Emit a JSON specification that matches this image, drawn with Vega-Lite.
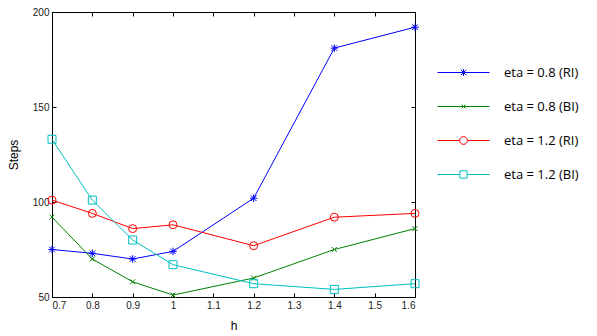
{
  "$schema": "https://vega.github.io/schema/vega-lite/v6.json",
  "autosize": "none",
  "width": 363,
  "height": 285,
  "padding": {"left": 52, "top": 12, "right": 182, "bottom": 39},
  "background": "white",
  "config": {
    "view": {"stroke": "#000", "strokeWidth": 1},
    "font": "Liberation Sans",
    "axis": {"grid": false, "domain": false, "tickColor": "#000", "tickSize": -4, "labelColor": "#222", "labelFontSize": 10, "titleFontWeight": "normal", "titleColor": "#000", "titleFontSize": 12}
  },
  "data": {"values": [
    {"h": 0.7, "steps": 75, "series": "eta = 0.8 (RI)"},
    {"h": 0.8, "steps": 73, "series": "eta = 0.8 (RI)"},
    {"h": 0.9, "steps": 70, "series": "eta = 0.8 (RI)"},
    {"h": 1.0, "steps": 74, "series": "eta = 0.8 (RI)"},
    {"h": 1.2, "steps": 102, "series": "eta = 0.8 (RI)"},
    {"h": 1.4, "steps": 181, "series": "eta = 0.8 (RI)"},
    {"h": 1.6, "steps": 192, "series": "eta = 0.8 (RI)"},
    {"h": 0.7, "steps": 92, "series": "eta = 0.8 (BI)"},
    {"h": 0.8, "steps": 70, "series": "eta = 0.8 (BI)"},
    {"h": 0.9, "steps": 58, "series": "eta = 0.8 (BI)"},
    {"h": 1.0, "steps": 51, "series": "eta = 0.8 (BI)"},
    {"h": 1.2, "steps": 60, "series": "eta = 0.8 (BI)"},
    {"h": 1.4, "steps": 75, "series": "eta = 0.8 (BI)"},
    {"h": 1.6, "steps": 86, "series": "eta = 0.8 (BI)"},
    {"h": 0.7, "steps": 101, "series": "eta = 1.2 (RI)"},
    {"h": 0.8, "steps": 94, "series": "eta = 1.2 (RI)"},
    {"h": 0.9, "steps": 86, "series": "eta = 1.2 (RI)"},
    {"h": 1.0, "steps": 88, "series": "eta = 1.2 (RI)"},
    {"h": 1.2, "steps": 77, "series": "eta = 1.2 (RI)"},
    {"h": 1.4, "steps": 92, "series": "eta = 1.2 (RI)"},
    {"h": 1.6, "steps": 94, "series": "eta = 1.2 (RI)"},
    {"h": 0.7, "steps": 133, "series": "eta = 1.2 (BI)"},
    {"h": 0.8, "steps": 101, "series": "eta = 1.2 (BI)"},
    {"h": 0.9, "steps": 80, "series": "eta = 1.2 (BI)"},
    {"h": 1.0, "steps": 67, "series": "eta = 1.2 (BI)"},
    {"h": 1.2, "steps": 57, "series": "eta = 1.2 (BI)"},
    {"h": 1.4, "steps": 54, "series": "eta = 1.2 (BI)"},
    {"h": 1.6, "steps": 57, "series": "eta = 1.2 (BI)"}
  ]},
  "resolve": {"axis": {"x": "independent", "y": "independent"}},
  "layer": [
    {
      "mark": {"type": "line", "strokeWidth": 1},
      "encoding": {
        "x": {"field": "h", "type": "quantitative", "scale": {"domain": [0.7, 1.6], "nice": false, "zero": false},
              "axis": {"orient": "bottom", "title": "h", "values": [0.7, 0.8, 0.9, 1.0, 1.1, 1.2, 1.3, 1.4, 1.5, 1.6], "format": "~g", "labelPadding": 7, "titlePadding": 10}},
        "y": {"field": "steps", "type": "quantitative", "scale": {"domain": [50, 200], "nice": false, "zero": false},
              "axis": {"orient": "left", "title": "Steps", "values": [50, 100, 150, 200], "labelPadding": 7, "titlePadding": 12}},
        "color": {"field": "series", "type": "nominal",
                  "scale": {"domain": ["eta = 0.8 (RI)", "eta = 0.8 (BI)", "eta = 1.2 (RI)", "eta = 1.2 (BI)"], "range": ["#0000ff", "#008000", "#ff0000", "#00bfbf"]},
                  "legend": {"title": null, "orient": "none", "legendX": 385, "legendY": 34, "symbolSize": 2704, "symbolStrokeWidth": 1, "symbolFillColor": "transparent", "labelFontSize": 13, "labelFont": "Open Sans", "labelColor": "#000", "labelOffset": 14, "rowPadding": 0,
                    "encode": {"symbols": {"update": {"fill": {"value": "transparent"}, "size": {"value": 2704}, "strokeWidth": {"value": 1},
                      "shape": {"signal": "datum.value == 'eta = 0.8 (RI)' ? 'M-1,0H1M0,-0.13V0.13M-0.1,-0.1L0.1,0.1M-0.1,0.1L0.1,-0.1' : datum.value == 'eta = 0.8 (BI)' ? 'M-1,0H1M-0.07,-0.07L0.07,0.07M-0.07,0.07L0.07,-0.07' : datum.value == 'eta = 1.2 (RI)' ? 'M-1,0H-0.15M0.15,0H1M-0.15,0A0.15,0.15 0 1,0 0.15,0A0.15,0.15 0 1,0 -0.15,0' : 'M-1,0H-0.14M0.14,0H1M-0.14,-0.14H0.14V0.14H-0.14Z'"}}}}},
                  "sort": null},
        "order": {"field": "h", "type": "quantitative"}
      }
    },
    {
      "transform": [{"filter": "datum.series == 'eta = 0.8 (RI)'"}],
      "mark": {"type": "point", "filled": false, "strokeWidth": 1, "opacity": 1, "shape": "M-1,0H1M0,-1V1M-0.75,-0.75L0.75,0.75M-0.75,0.75L0.75,-0.75", "size": 56},
      "encoding": {
        "x": {"field": "h", "type": "quantitative", "axis": {"orient": "top", "title": null, "labels": false, "values": [0.7, 0.8, 0.9, 1.0, 1.1, 1.2, 1.3, 1.4, 1.5, 1.6]}},
        "y": {"field": "steps", "type": "quantitative", "axis": {"orient": "right", "title": null, "labels": false, "values": [50, 100, 150, 200]}},
        "color": {"field": "series", "type": "nominal", "legend": null}
      }
    },
    {
      "transform": [{"filter": "datum.series == 'eta = 0.8 (BI)'"}],
      "mark": {"type": "point", "filled": false, "strokeWidth": 1, "opacity": 1, "shape": "M-1,-1L1,1M-1,1L1,-1", "size": 25},
      "encoding": {
        "x": {"field": "h", "type": "quantitative", "axis": null},
        "y": {"field": "steps", "type": "quantitative", "axis": null},
        "color": {"field": "series", "type": "nominal", "legend": null}
      }
    },
    {
      "transform": [{"filter": "datum.series == 'eta = 1.2 (RI)'"}],
      "mark": {"type": "point", "filled": false, "strokeWidth": 1, "opacity": 1, "shape": "circle", "size": 64},
      "encoding": {
        "x": {"field": "h", "type": "quantitative", "axis": null},
        "y": {"field": "steps", "type": "quantitative", "axis": null},
        "color": {"field": "series", "type": "nominal", "legend": null}
      }
    },
    {
      "transform": [{"filter": "datum.series == 'eta = 1.2 (BI)'"}],
      "mark": {"type": "point", "filled": false, "strokeWidth": 1, "opacity": 1, "shape": "square", "size": 64},
      "encoding": {
        "x": {"field": "h", "type": "quantitative", "axis": null},
        "y": {"field": "steps", "type": "quantitative", "axis": null},
        "color": {"field": "series", "type": "nominal", "legend": null}
      }
    }
  ]
}
